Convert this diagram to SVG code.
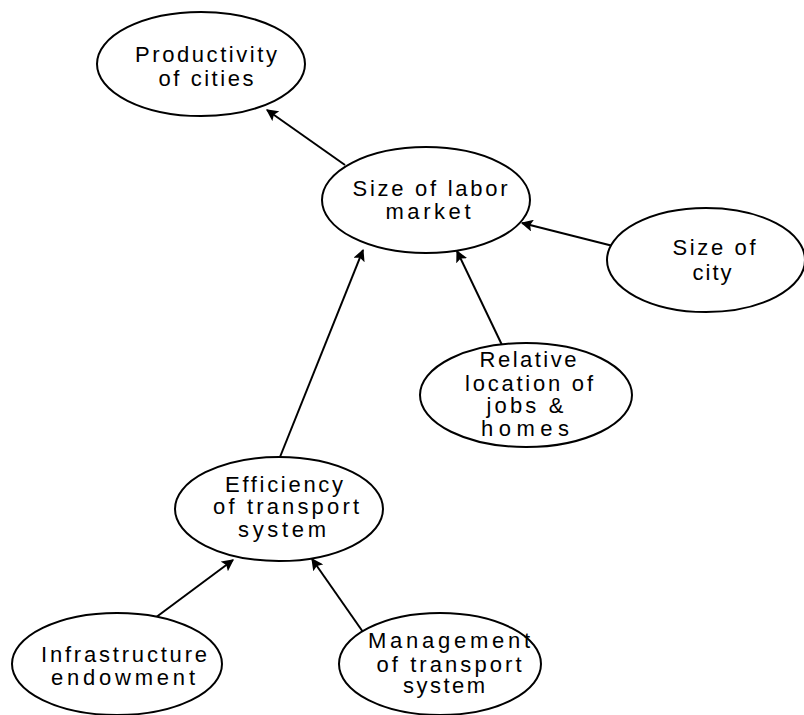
<svg xmlns="http://www.w3.org/2000/svg" width="804" height="715" viewBox="0 0 804 715">
<style>
.n ellipse{fill:#fff;stroke:#000;stroke-width:2}
.n text{font-family:"Liberation Sans",Arial,sans-serif;font-size:22px;fill:#000;text-anchor:middle}
.c line{stroke:#000;stroke-width:2;marker-end:url(#ah)}
</style>
<defs>
<marker id="ah" viewBox="0 0 10 10" refX="9" refY="5" markerWidth="6" markerHeight="6" orient="auto" markerUnits="strokeWidth">
<path d="M0,0 L10,5 L0,10 L2,5 Z" fill="#000"/>
</marker>
</defs>
<rect width="804" height="715" fill="#fff"/>
<g class="c" id="connectors">
<line x1="345" y1="165" x2="267" y2="110"/>
<line x1="617" y1="247" x2="522" y2="223"/>
<line x1="502" y1="345" x2="457" y2="251"/>
<line x1="280" y1="457" x2="363" y2="250"/>
<line x1="155" y1="618" x2="233" y2="560"/>
<line x1="363" y1="632" x2="312" y2="559"/>
</g>
<g class="n" id="productivity">
<ellipse cx="201" cy="64" rx="104" ry="52"/>
<text x="206" y="62" textLength="142" lengthAdjust="spacing">Productivity</text>
<text x="206" y="86" textLength="95" lengthAdjust="spacing">of cities</text>
</g>
<g class="n" id="labor">
<ellipse cx="426" cy="200" rx="104" ry="53"/>
<text x="430" y="196" textLength="155" lengthAdjust="spacing">Size of labor</text>
<text x="428" y="219" textLength="85" lengthAdjust="spacing">market</text>
</g>
<g class="n" id="city">
<ellipse cx="706" cy="260" rx="99" ry="52"/>
<text x="714" y="255" textLength="83" lengthAdjust="spacing">Size of</text>
<text x="712" y="280" textLength="39" lengthAdjust="spacing">city</text>
</g>
<g class="n" id="relative">
<ellipse cx="526" cy="395" rx="106" ry="52"/>
<text x="528" y="367" textLength="97" lengthAdjust="spacing">Relative</text>
<text x="529" y="391" textLength="128" lengthAdjust="spacing">location of</text>
<text x="525" y="413" textLength="77" lengthAdjust="spacing">jobs &amp;</text>
<text x="525" y="436" textLength="88" lengthAdjust="spacing">homes</text>
</g>
<g class="n" id="efficiency">
<ellipse cx="279" cy="509" rx="104" ry="52"/>
<text x="284" y="492" textLength="118" lengthAdjust="spacing">Efficiency</text>
<text x="286" y="514" textLength="146" lengthAdjust="spacing">of transport</text>
<text x="282" y="537" textLength="88" lengthAdjust="spacing">system</text>
</g>
<g class="n" id="infrastructure">
<ellipse cx="117" cy="664" rx="105" ry="51"/>
<text x="124" y="662" textLength="166" lengthAdjust="spacing">Infrastructure</text>
<text x="123" y="685" textLength="144" lengthAdjust="spacing">endowment</text>
</g>
<g class="n" id="management">
<ellipse cx="440" cy="664" rx="101" ry="51"/>
<text x="449" y="648" textLength="162" lengthAdjust="spacing">Management</text>
<text x="449" y="672" textLength="145" lengthAdjust="spacing">of transport</text>
<text x="444" y="693" textLength="82" lengthAdjust="spacing">system</text>
</g>
</svg>
